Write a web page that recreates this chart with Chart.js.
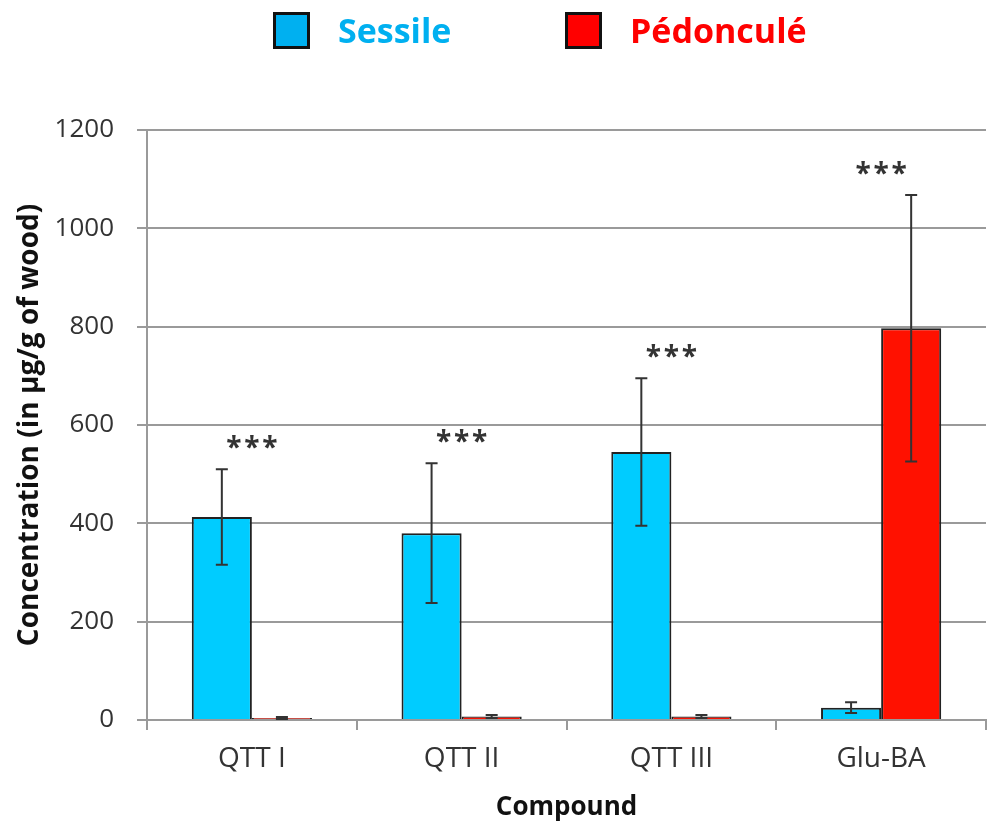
<!DOCTYPE html>
<html>
<head>
<meta charset="utf-8">
<script src="https://cdn.jsdelivr.net/npm/chart.js@4"></script>
<style>
  body { margin: 0; background: #fff; }
  #wrap { position: relative; width: 1008px; height: 828px; }
  #legend { position: absolute; top: 0; left: 0; width: 1008px; height: 60px;
            font-family: 'Open Sans', sans-serif; font-weight: bold; font-size: 34px; }
  .item { position: absolute; top: 6px; height: 48px; display: flex; align-items: center; }
  .box { width: 31px; height: 31px; border: 3px solid #111; margin-right: 28px; }
  canvas { position: absolute; top: 0; left: 0; }
</style>
</head>
<body>
<div id="wrap">
  <canvas id="chart" width="1008" height="828"></canvas>
  <div id="legend"></div>
</div>
<script>
// Data
const categories = ['QTT I', 'QTT II', 'QTT III', 'Glu-BA'];
const sessile = [413, 380, 545, 25];
const sessileErr = [97, 142, 150, 11];
const pedoncule = [4, 7, 7, 797];
const pedonculeErr = [2, 3, 3, 271];
const significance = ['***', '***', '***', '***'];
const yTicks = [0, 200, 400, 600, 800, 1000, 1200];

// Legend entries (box colour / text colour)
const LEGEND = [
  { label: 'Sessile', color: '#00B0F0', left: 273 },
  { label: 'Pédonculé', color: '#FF0000', left: 565 }
];

const GRID = '#9a9a9a';
const INK = '#333';

// Build the legend
const legendEl = document.getElementById('legend');
LEGEND.forEach(item => {
  const div = document.createElement('div');
  div.className = 'item';
  div.style.left = item.left + 'px';
  const box = document.createElement('span');
  box.className = 'box';
  box.style.background = item.color;
  const text = document.createElement('span');
  text.textContent = item.label;
  text.style.color = item.color;
  div.appendChild(box);
  div.appendChild(text);
  legendEl.appendChild(div);
});

// Error bars for every bar
const errorBars = {
  id: 'errorBars',
  afterDatasetsDraw(chart) {
    const ctx = chart.ctx;
    const y = chart.scales.y;
    ctx.save();
    ctx.strokeStyle = INK;
    ctx.lineWidth = 2;
    chart.data.datasets.forEach((ds, di) => {
      const meta = chart.getDatasetMeta(di);
      meta.data.forEach((bar, i) => {
        const hi = y.getPixelForValue(ds.data[i] + ds.errors[i]);
        const lo = y.getPixelForValue(Math.max(0, ds.data[i] - ds.errors[i]));
        ctx.beginPath();
        ctx.moveTo(bar.x, hi); ctx.lineTo(bar.x, lo);
        ctx.moveTo(bar.x - 6, hi); ctx.lineTo(bar.x + 6, hi);
        ctx.moveTo(bar.x - 6, lo); ctx.lineTo(bar.x + 6, lo);
        ctx.stroke();
      });
    });
    ctx.restore();
  }
};

// Significance stars above each group
const stars = {
  id: 'stars',
  afterDatasetsDraw(chart) {
    const ctx = chart.ctx;
    const x = chart.scales.x;
    const y = chart.scales.y;
    ctx.save();
    ctx.fillStyle = INK;
    ctx.font = 'bold 28px "Open Sans"';
    ctx.textAlign = 'center';
    ctx.textBaseline = 'alphabetic';
    significance.forEach((sig, i) => {
      if (!sig) return;
      let top = Infinity;
      chart.data.datasets.forEach(ds => {
        top = Math.min(top, y.getPixelForValue(ds.data[i] + ds.errors[i]));
      });
      const cx = x.getPixelForValue(i);
      const cy = top - 28;
      for (let k = 0; k < sig.length; k++) {
        ctx.fillText(sig[k], cx + (k - (sig.length - 1) / 2) * 18, cy + 16);
      }
    });
    ctx.restore();
  }
};

new Chart(document.getElementById('chart'), {
  type: 'bar',
  data: {
    labels: categories,
    datasets: [
      { label: 'Sessile', data: sessile, errors: sessileErr,
        backgroundColor: '#00CCFF', borderColor: '#222', borderWidth: 2 },
      { label: 'Pédonculé', data: pedoncule, errors: pedonculeErr,
        backgroundColor: '#FF1100', borderColor: '#222', borderWidth: 2 }
    ]
  },
  options: {
    responsive: false,
    animation: false,
    events: [],
    layout: { padding: { top: 130, right: 22, left: 0, bottom: 0 } },
    datasets: { bar: { categoryPercentage: 0.573, barPercentage: 1 } },
    plugins: { legend: { display: false }, tooltip: { enabled: false } },
    scales: {
      x: {
        afterFit(scale) { scale.height = 108; },
        border: { color: GRID, width: 2 },
        grid: { display: true, drawOnChartArea: false, offset: true, tickLength: 10, color: GRID, lineWidth: 2 },
        ticks: { color: INK, padding: 12, font: { family: 'Open Sans', size: 28 } },
        title: { display: true, text: 'Compound', color: '#111',
                 font: { family: 'Open Sans', size: 26, weight: 'bold' }, padding: { top: 0, bottom: 5 } }
      },
      y: {
        min: 0, max: 1200,
        afterFit(scale) { scale.width = 147; },
        afterBuildTicks(scale) { scale.ticks = yTicks.map(v => ({ value: v })); },
        border: { color: GRID, width: 2 },
        grid: { color: GRID, lineWidth: 2, tickLength: 10 },
        ticks: { color: INK, padding: 23, font: { family: 'Open Sans', size: 26 },
                 callback: v => String(v) },
        title: { display: true, text: 'Concentration (in µg/g of wood)', color: '#111',
                 font: { family: 'Open Sans', size: 28, weight: 'bold' }, padding: { top: 13, bottom: 0 } }
      }
    }
  },
  plugins: [errorBars, stars]
});
</script>
</body>
</html>
